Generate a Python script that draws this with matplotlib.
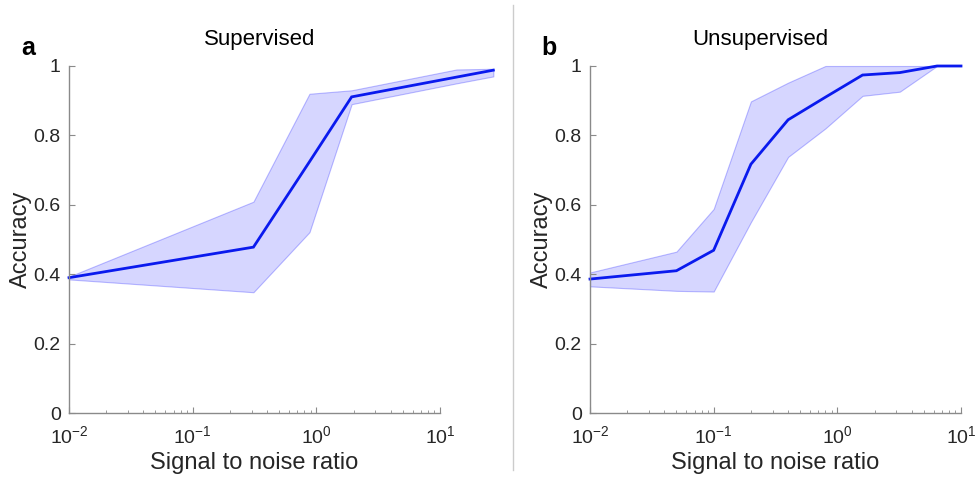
import matplotlib
matplotlib.use("Agg")
import matplotlib.pyplot as plt
from matplotlib.ticker import LogLocator, FixedLocator, NullFormatter

plt.rcParams['font.family'] = ['Liberation Sans', 'DejaVu Sans']
plt.rcParams['mathtext.fontset'] = 'custom'
plt.rcParams['mathtext.rm'] = 'Liberation Sans'
plt.rcParams['mathtext.it'] = 'Liberation Sans:italic'
plt.rcParams['mathtext.bf'] = 'Liberation Sans:bold'
plt.rcParams['axes.unicode_minus'] = False

# Supervised
sup_snr = [0.01, 0.31, 0.88, 1.93, 13.6, 27]
sup_mean = [0.390, 0.478, 0.724, 0.911, 0.968, 0.988]
sup_upper = [0.393, 0.609, 0.920, 0.930, 0.990, 0.992]
sup_lower = [0.385, 0.348, 0.521, 0.890, 0.950, 0.970]

# Unsupervised
uns_snr = [0.01, 0.05, 0.1, 0.2, 0.4, 0.8, 1.6, 3.2, 6.4, 10]
uns_mean = [0.386, 0.410, 0.469, 0.717, 0.845, 0.910, 0.974, 0.981, 1.0, 1.0]
uns_upper = [0.405, 0.465, 0.588, 0.898, 0.952, 1.0, 1.0, 1.0, 1.0, 1.0]
uns_lower = [0.365, 0.352, 0.350, 0.550, 0.738, 0.820, 0.914, 0.926, 1.0, 1.0]

yticks = [0, 0.2, 0.4, 0.6, 0.8, 1]
ytick_labels = ['0', '0.2', '0.4', '0.6', '0.8', '1']
titles = ['Supervised', 'Unsupervised']
panel_letters = ['a', 'b']

fig = plt.figure(figsize=(9.76, 4.8), dpi=100)
W, H = 976, 480
axes_px = [(69, 66, 440, 413), (590, 66, 961, 413)]
title_cx = [260, 760]

data = [(sup_snr, sup_mean, sup_upper, sup_lower),
        (uns_snr, uns_mean, uns_upper, uns_lower)]

text_col = '#262626'
spine_col = '#8a8a8a'
for i, (x0, y0, x1, y1) in enumerate(axes_px):
    ax = fig.add_axes([x0 / W, 1 - y1 / H, (x1 - x0) / W, (y1 - y0) / H])
    snr, m, up, lo = data[i]
    ax.fill_between(snr, lo, up, facecolor=(0.0, 0.0, 1.0, 0.16),
                    edgecolor=(0.0, 0.0, 1.0, 0.25), linewidth=0.8, clip_on=False)
    ax.plot(snr, m, color='#0a1aee', linewidth=2.0, clip_on=False, solid_joinstyle='miter')
    ax.set_xscale('log')
    ax.set_xlim(0.01, 10)
    ax.set_ylim(0, 1)
    ax.set_yticks(yticks)
    ax.set_yticklabels(ytick_labels)
    ax.xaxis.set_major_locator(FixedLocator([0.01, 0.1, 1, 10]))
    ax.xaxis.set_minor_locator(LogLocator(base=10, subs=range(2, 10), numticks=20))
    ax.xaxis.set_minor_formatter(NullFormatter())
    for s in ['top', 'right']:
        ax.spines[s].set_visible(False)
    for s in ['left', 'bottom']:
        ax.spines[s].set_color(spine_col)
        ax.spines[s].set_linewidth(1.0)
    ax.tick_params(axis='both', which='major', direction='in', length=4, width=0.8,
                   color=spine_col, labelsize=14, labelcolor=text_col, pad=6)
    ax.tick_params(axis='x', which='major', pad=9)
    ax.tick_params(axis='x', which='minor', direction='in', length=2.5, width=0.6,
                   color=spine_col)
    ax.set_xlabel('Signal to noise ratio', fontsize=17, color=text_col, labelpad=3)
    ax.set_ylabel('Accuracy', fontsize=17, color=text_col, labelpad=1)
    fig.text(title_cx[i] / W, 1 - 40 / H, titles[i], fontsize=16, color='black',
             ha='center', va='center')
    fig.text((x0 - 41) / W, 1 - 48 / H, panel_letters[i], fontsize=18,
             fontweight='bold', color='black', ha='center', va='center')

fig.add_artist(plt.Line2D([512.5 / W, 512.5 / W], [1 - 5 / H, 1 - 470 / H],
                          color='#cccccc', linewidth=1.0))

fig.savefig('out.png', dpi=100)
